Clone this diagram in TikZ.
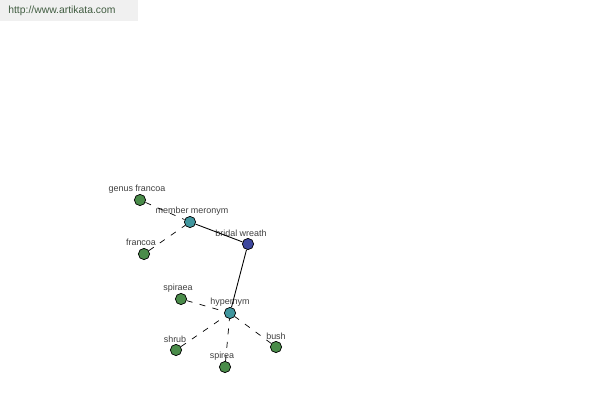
\documentclass[tikz,border=0pt]{standalone}
\usepackage{fontspec}
\setmainfont{Liberation Sans}
\usepackage{tikz}
\definecolor{leaf}{rgb}{0.29,0.55,0.29}
\definecolor{rel}{rgb}{0.25,0.59,0.62}
\definecolor{word}{rgb}{0.24,0.28,0.62}
\definecolor{banner}{rgb}{0.94,0.94,0.94}
\definecolor{urltext}{rgb}{0.25,0.36,0.25}
\tikzset{
  dot/.style={circle,draw=black,line width=0.4pt,minimum size=6.4pt,inner sep=0pt},
  lbl/.style={font=\fontsize{5.1}{6}\selectfont,text=black!75,inner sep=0pt},
  weak/.style={black,line width=0.4pt,dash pattern=on 3.4pt off 4.2pt},
  strong/.style={black,line width=0.5pt}
}

\begin{document}
\begin{tikzpicture}[x=0.02cm,y=-0.02cm]
        \useasboundingbox (0,0) rectangle (600,400);
        \fill[banner] (0,0) rectangle (138,21);
        \node[font=\fontsize{5.9}{7}\selectfont,text=urltext,anchor=west,inner sep=0pt] (url) at (8,10.5) {http://www.artikata.com};
        % the words
        \node[dot,fill=word] (bw) at (248,244) {};
        \node[dot,fill=rel] (mm) at (190,222) {};
        \node[dot,fill=rel] (hyp) at (230,313) {};
        \node[dot,fill=leaf] (gf) at (140,200) {};
        \node[dot,fill=leaf] (fr) at (144,254) {};
        \node[dot,fill=leaf] (spa) at (181,299) {};
        \node[dot,fill=leaf] (shr) at (176,350) {};
        \node[dot,fill=leaf] (spe) at (225,367) {};
        \node[dot,fill=leaf] (bsh) at (276,347) {};
        % labels
        \node[lbl] (bwl) at (241,233) {bridal wreath};
        \node[lbl] (mml) at (192,211) {member meronym};
        \node[lbl] (hypl) at (230,302) {hypernym};
        \node[lbl] (gfl) at (137,189) {genus francoa};
        \node[lbl] (frl) at (141,242) {francoa};
        \node[lbl] (spal) at (178,288) {spiraea};
        \node[lbl] (shrl) at (175,339) {shrub};
        \node[lbl] (spel) at (222,356) {spirea};
        \node[lbl] (bshl) at (276,336) {bush};
        % links
        \draw[strong] (mm) -- (bw);
        \draw[strong] (bw) -- (hyp);
        \draw[weak] (gf) -- (mm);
        \draw[weak] (fr) -- (mm);
        \draw[weak] (spa) -- (hyp);
        \draw[weak] (shr) -- (hyp);
        \draw[weak] (spe) -- (hyp);
        \draw[weak] (bsh) -- (hyp);
\end{tikzpicture}
\end{document}
